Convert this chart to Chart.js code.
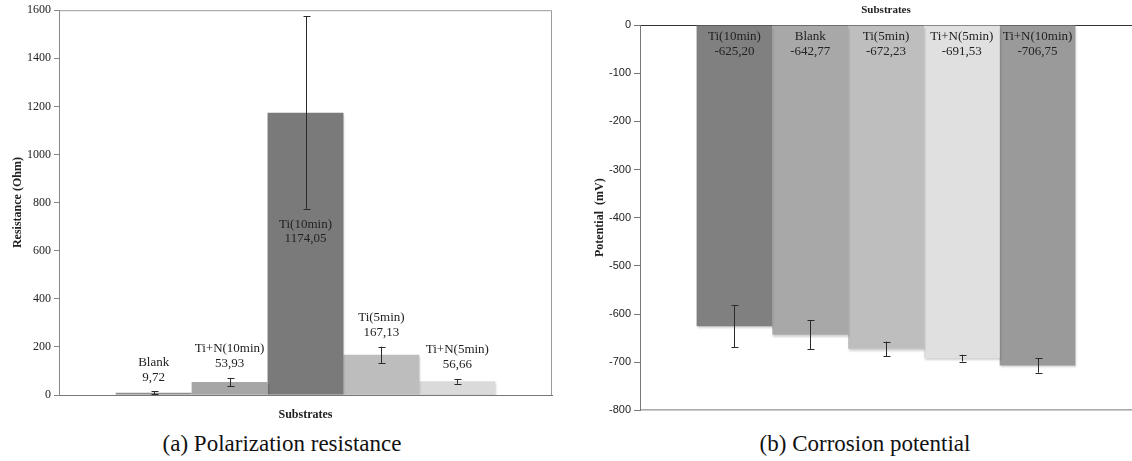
<!DOCTYPE html>
<html>
<head>
<meta charset="utf-8">
<script src="https://cdn.jsdelivr.net/npm/chart.js@4.4.1/dist/chart.umd.min.js"></script>
<style>
  html, body { margin: 0; padding: 0; background: #fff; overflow: hidden; }
  body { width: 1132px; height: 461px; position: relative; font-family: "Liberation Serif", serif; }
  #resistanceChart { position: absolute; left: 0; top: 0; }
  #potentialChart { position: absolute; left: 580px; top: 0; }
  .caption { position: absolute; top: 432px; font-size: 23px; line-height: 23px; color: #111; text-align: center; white-space: nowrap; }
</style>
</head>
<body>
<canvas id="resistanceChart" width="560" height="425"></canvas>
<canvas id="potentialChart" width="552" height="420"></canvas>
<div class="caption" style="left:132px; width:300px;">(a) Polarization resistance</div>
<div class="caption" style="left:715px; width:300px;">(b) Corrosion potential</div>

<script>
// Polarization resistance
const substrates = ['Substrates'];
const resistanceNames = ['Blank', 'Ti+N(10min)', 'Ti(10min)', 'Ti(5min)', 'Ti+N(5min)'];
const resistanceValues = [9.72, 53.93, 1174.05, 167.13, 56.66];
const resistanceErrors = [5, 17, 400, 34, 10];
const resistanceTicks = [0, 200, 400, 600, 800, 1000, 1200, 1400, 1600];

// Corrosion potential
const potentialNames = ['Ti(10min)', 'Blank', 'Ti(5min)', 'Ti+N(5min)', 'Ti+N(10min)'];
const potentialValues = [-625.20, -642.77, -672.23, -691.53, -706.75];
const potentialErrors = [44, 30, 15, 7, 15];
const potentialTicks = [0, -100, -200, -300, -400, -500, -600, -700, -800];

const serif = "'Liberation Serif', 'Times New Roman', serif";
const sans = "'Liberation Sans', Arial, sans-serif";
const fmt = v => v.toFixed(2).replace('.', ',');

// soft shadow under each bar
const barShadow = {
    id: 'barShadow',
    beforeDatasetDraw(chart) {
        const ctx = chart.ctx;
        ctx.save();
        ctx.shadowColor = 'rgba(0,0,0,0.18)';
        ctx.shadowOffsetX = 1;
        ctx.shadowOffsetY = 2;
        ctx.shadowBlur = 2;
    },
    afterDatasetDraw(chart) {
        chart.ctx.restore();
    }
};

// error bars, value labels and the extra frame lines
const barExtras = {
    id: 'barExtras',
    afterDatasetsDraw(chart, args, opts) {
        const ctx = chart.ctx;
        const y = chart.scales.y;
        const area = chart.chartArea;

        ctx.save();
        ctx.strokeStyle = opts.frameColor;
        ctx.lineWidth = 1;
        ctx.beginPath();
        if (opts.mode === 'above') {
            ctx.moveTo(area.left, area.top + 0.5);
            ctx.lineTo(area.right - 0.5, area.top + 0.5);
            ctx.lineTo(area.right - 0.5, area.bottom);
        } else {
            ctx.moveTo(area.left, area.bottom - 0.5);
            ctx.lineTo(area.right, area.bottom - 0.5);
        }
        ctx.stroke();

        chart.data.datasets.forEach((ds, i) => {
            const bar = chart.getDatasetMeta(i).data[0];
            const v = ds.data[0];
            const e = opts.errors[i];
            const yHi = y.getPixelForValue(v + e);
            const yLo = y.getPixelForValue(v - e);
            const x = Math.round(bar.x) + 0.5;

            ctx.strokeStyle = '#2a2a2a';
            ctx.beginPath();
            ctx.moveTo(x, yHi); ctx.lineTo(x, yLo);
            ctx.moveTo(x - 3, Math.round(yHi) + 0.5); ctx.lineTo(x + 4, Math.round(yHi) + 0.5);
            ctx.moveTo(x - 3, Math.round(yLo) + 0.5); ctx.lineTo(x + 4, Math.round(yLo) + 0.5);
            ctx.stroke();

            let nameY, numY;
            if (opts.mode === 'above') {
                const barH = bar.base - bar.y;
                if (barH > (area.bottom - area.top) / 2) {
                    const mid = (bar.y + bar.base) / 2;
                    nameY = mid - 29;
                    numY = mid - 15;
                } else {
                    const top = Math.min(bar.y, yHi);
                    numY = top - 14;
                    nameY = top - 29;
                }
            } else {
                const base = y.getPixelForValue(0);
                nameY = base + 12;
                numY = base + 27;
            }
            ctx.fillStyle = '#222';
            ctx.font = '13px ' + serif;
            ctx.textAlign = 'center';
            ctx.textBaseline = 'middle';
            ctx.fillText(ds.label, bar.x, nameY);
            ctx.fillText(fmt(v), bar.x, numY);
        });
        ctx.restore();
    }
};

function makeDatasets(names, values, colors) {
    return names.map((n, i) => ({
        label: n,
        data: [values[i]],
        backgroundColor: colors[i],
        borderWidth: 0,
        categoryPercentage: 0.77,
        barPercentage: 1
    }));
}

// (a) resistance chart
new Chart(document.getElementById('resistanceChart'), {
    type: 'bar',
    data: {
        labels: substrates,
        datasets: makeDatasets(resistanceNames, resistanceValues,
            ['#8e8e8e', '#a6a6a6', '#7a7a7a', '#bdbdbd', '#dadada'])
    },
    options: {
        responsive: false,
        animation: false,
        layout: { padding: { left: 11, top: 10, right: 8, bottom: 0 } },
        plugins: {
            legend: { display: false },
            tooltip: { enabled: false },
            barExtras: { mode: 'above', errors: resistanceErrors, frameColor: '#9a9a9a' }
        },
        scales: {
            x: {
                grid: { display: false },
                border: { color: '#777', width: 1 },
                ticks: { font: { family: serif, size: 12, weight: 'bold' }, color: '#222', padding: 5 },
                afterFit: s => { s.height = 30; }
            },
            y: {
                min: 0,
                max: 1600,
                afterBuildTicks: s => { s.ticks = resistanceTicks.map(v => ({ value: v })); },
                grid: { drawOnChartArea: false, drawTicks: true, tickLength: 5, color: '#888' },
                border: { color: '#888', width: 1 },
                ticks: { font: { family: serif, size: 12 }, color: '#222', padding: 3, callback: v => String(v) },
                title: {
                    display: true,
                    text: 'Resistance (Ohm)',
                    font: { family: serif, size: 12, weight: 'bold' },
                    color: '#222',
                    padding: 0
                },
                afterFit: s => { s.width = 48; }
            }
        }
    },
    plugins: [barShadow, barExtras]
});

// (b) potential chart
new Chart(document.getElementById('potentialChart'), {
    type: 'bar',
    data: {
        labels: substrates,
        datasets: makeDatasets(potentialNames, potentialValues,
            ['#808080', '#a8a8a8', '#bebebe', '#e0e0e0', '#9a9a9a'])
    },
    options: {
        responsive: false,
        animation: false,
        layout: { padding: { left: 13, top: 0, right: 0, bottom: 8 } },
        plugins: {
            legend: { display: false },
            tooltip: { enabled: false },
            barExtras: { mode: 'inside', errors: potentialErrors, frameColor: '#777' }
        },
        scales: {
            x: {
                position: 'top',
                grid: { display: false },
                border: { color: '#333', width: 1 },
                ticks: { font: { family: serif, size: 11, weight: 'bold' }, color: '#222', padding: 0 },
                afterFit: s => { s.height = 25; }
            },
            y: {
                min: -800,
                max: 0,
                afterBuildTicks: s => { s.ticks = potentialTicks.map(v => ({ value: v })); },
                grid: { drawOnChartArea: false, drawTicks: true, tickLength: 6, color: '#777' },
                border: { color: '#777', width: 1 },
                ticks: { font: { family: sans, size: 11 }, color: '#222', padding: 3, callback: v => String(v) },
                title: {
                    display: true,
                    text: 'Potential  (mV)',
                    font: { family: serif, size: 12, weight: 'bold' },
                    color: '#222',
                    padding: 0
                },
                afterFit: s => { s.width = 47; }
            }
        }
    },
    plugins: [barShadow, barExtras]
});
</script>
</body>
</html>
